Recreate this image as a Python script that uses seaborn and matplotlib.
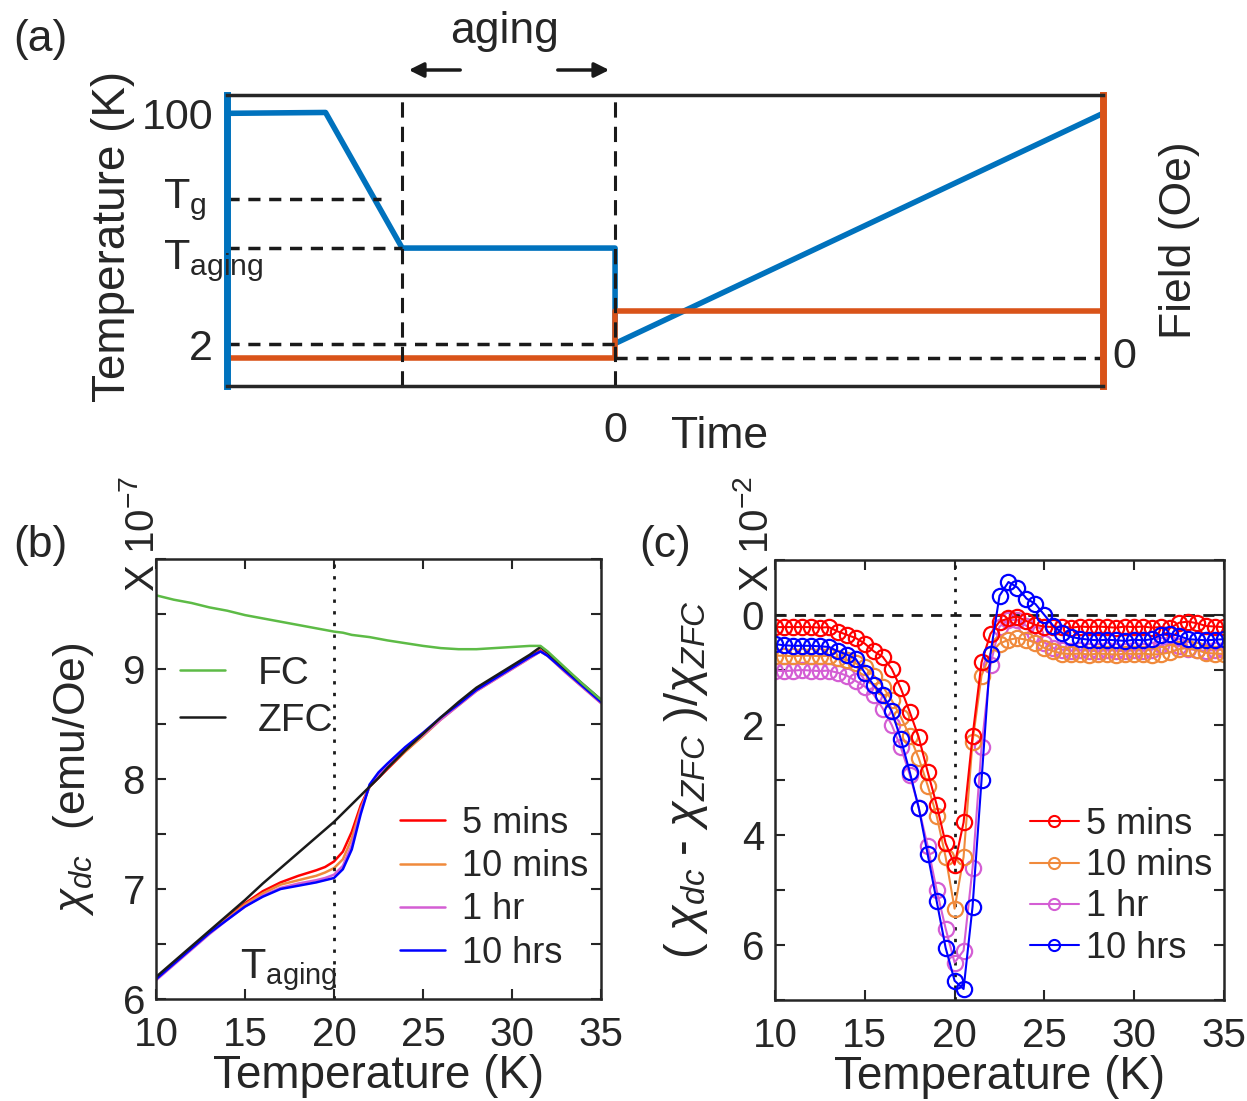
import numpy as np
import pandas as pd
import matplotlib
matplotlib.use("Agg")
import matplotlib.pyplot as plt
import seaborn as sns
from matplotlib.lines import Line2D
from matplotlib.ticker import MultipleLocator

# ---------------- data ----------------
# panel (a): protocol sketch (time and levels in axes units)
time_T = [0.0, 0.1125, 0.2, 0.443, 0.443, 1.0]
temp_T = [0.937, 0.940, 0.474, 0.474, 0.146, 0.937]
time_H = [0.0, 0.443, 0.443, 1.0]
field_H = [0.095, 0.095, 0.257, 0.257]
level_100, level_Tg, level_Tag, level_2, level_H0 = 0.937, 0.643, 0.474, 0.143, 0.095
t_aging_start, t_zero = 0.2, 0.443

# panel (b)
T_b = [10, 11, 12, 13, 14, 15, 16, 17, 18, 19, 19.5, 20, 20.5, 21, 21.5, 22, 22.5, 23,
       24, 25, 26, 27, 28, 29, 30, 31, 31.6, 32, 33, 34, 35]
fc_b = [9.67, 9.63, 9.60, 9.56, 9.53, 9.49, 9.46, 9.43, 9.40, 9.37, 9.355, 9.34, 9.33, 9.31,
        9.30, 9.29, 9.275, 9.26, 9.235, 9.21, 9.19, 9.18, 9.18, 9.19, 9.20, 9.21, 9.21,
        9.16, 9.01, 8.86, 8.72]
zfc_b = [6.20, 6.34, 6.48, 6.62, 6.76, 6.90, 7.05, 7.19, 7.33, 7.47, 7.54, 7.61, 7.69, 7.77,
         7.85, 7.93, 8.01, 8.10, 8.26, 8.41, 8.56, 8.70, 8.83, 8.93, 9.03, 9.13, 9.20,
         9.15, 9.00, 8.86, 8.72]
red_b = [6.19, 6.33, 6.47, 6.61, 6.74, 6.87, 6.98, 7.06, 7.12, 7.17, 7.20, 7.25, 7.34, 7.52,
         7.76, 7.93, 8.01, 8.09, 8.25, 8.40, 8.55, 8.68, 8.81, 8.91, 9.01, 9.11, 9.17,
         9.13, 8.98, 8.84, 8.70]
orange_b = [6.185, 6.325, 6.465, 6.60, 6.73, 6.86, 6.96, 7.04, 7.08, 7.12, 7.15, 7.19, 7.27,
            7.46, 7.73, 7.93, 8.02, 8.10, 8.25, 8.39, 8.54, 8.67, 8.80, 8.90, 9.00, 9.10,
            9.16, 9.12, 8.97, 8.83, 8.69]
magenta_b = [6.17, 6.31, 6.45, 6.59, 6.72, 6.84, 6.94, 7.01, 7.05, 7.08, 7.10, 7.13, 7.21,
             7.40, 7.71, 7.94, 8.04, 8.12, 8.27, 8.40, 8.54, 8.67, 8.80, 8.90, 9.00, 9.10,
             9.16, 9.12, 8.97, 8.83, 8.69]
blue_b = [6.18, 6.32, 6.46, 6.60, 6.72, 6.84, 6.93, 7.00, 7.03, 7.06, 7.08, 7.10, 7.18,
          7.36, 7.68, 7.95, 8.06, 8.14, 8.29, 8.42, 8.56, 8.68, 8.81, 8.91, 9.01, 9.11,
          9.16, 9.12, 8.98, 8.84, 8.70]

# panel (c)
T_c = [10.0, 10.5, 11.0, 11.5, 12.0, 12.5, 13.0, 13.5, 14.0, 14.5, 15.0, 15.5, 16.0, 16.5,
       17.0, 17.5, 18.0, 18.5, 19.0, 19.5, 20.0, 20.5, 21.0, 21.5, 22.0, 22.5, 23.0, 23.5,
       24.0, 24.5, 25.0, 25.5, 26.0, 26.5, 27.0, 27.5, 28.0, 28.5, 29.0, 29.5, 30.0, 30.5,
       31.0, 31.5, 32.0, 32.5, 33.0, 33.5, 34.0, 34.5, 35.0]
red_c = [0.22, 0.22, 0.22, 0.22, 0.22, 0.23, 0.22, 0.30, 0.36, 0.42, 0.52, 0.66, 0.76, 0.98,
         1.33, 1.76, 2.22, 2.85, 3.45, 4.15, 4.54, 3.77, 2.20, 0.86, 0.34, 0.12, 0.06, 0.03,
         0.11, 0.18, 0.21, 0.22, 0.21, 0.23, 0.21, 0.22, 0.21, 0.22, 0.23, 0.21, 0.22, 0.21,
         0.23, 0.22, 0.24, 0.14, 0.12, 0.15, 0.20, 0.21, 0.22]
orange_c = [0.74, 0.74, 0.75, 0.74, 0.74, 0.75, 0.74, 0.78, 0.82, 0.88, 0.95, 1.10, 1.30, 1.55,
            1.85, 2.20, 2.60, 3.10, 3.65, 4.40, 5.34, 4.40, 2.30, 1.10, 0.70, 0.52, 0.45, 0.42,
            0.45, 0.50, 0.60, 0.66, 0.70, 0.71, 0.70, 0.72, 0.70, 0.71, 0.72, 0.70, 0.71, 0.70,
            0.72, 0.71, 0.68, 0.62, 0.60, 0.64, 0.69, 0.70, 0.71]
magenta_c = [1.01, 1.02, 1.01, 1.00, 1.01, 1.02, 1.01, 1.05, 1.10, 1.20, 1.30, 1.45, 1.70, 2.00,
             2.40, 2.90, 3.50, 4.20, 5.00, 5.70, 6.32, 6.10, 4.60, 2.40, 0.90, 0.21, 0.09, 0.09,
             0.20, 0.35, 0.50, 0.60, 0.63, 0.65, 0.64, 0.65, 0.66, 0.64, 0.65, 0.66, 0.64, 0.65,
             0.63, 0.55, 0.52, 0.56, 0.62, 0.64, 0.65, 0.64, 0.63]
blue_c = [0.53, 0.55, 0.56, 0.56, 0.56, 0.57, 0.58, 0.66, 0.72, 0.80, 1.05, 1.28, 1.45, 1.75,
          2.25, 2.85, 3.50, 4.35, 5.20, 6.05, 6.65, 6.80, 5.30, 3.00, 0.70, -0.35, -0.60, -0.50,
          -0.30, -0.20, 0.00, 0.20, 0.33, 0.40, 0.43, 0.45, 0.46, 0.45, 0.46, 0.47, 0.45, 0.46,
          0.44, 0.36, 0.34, 0.38, 0.44, 0.45, 0.46, 0.45, 0.44]

series_labels = ["5 mins", "10 mins", "1 hr", "10 hrs"]
series_colors = ["#ff0000", "#f08a3c", "#d45ed4", "#0000ff"]

# ---------------- style ----------------
sns.set_theme(style="white")
plt.rcParams["font.family"] = ["Liberation Sans", "DejaVu Sans"]
plt.rcParams["mathtext.fontset"] = "custom"
plt.rcParams["mathtext.rm"] = "Liberation Sans"
plt.rcParams["mathtext.it"] = "Liberation Sans:italic"
plt.rcParams["mathtext.bf"] = "Liberation Sans:bold"
plt.rcParams["axes.unicode_minus"] = False

W, H = 1247, 1101
fig = plt.figure(figsize=(W / 100, H / 100), dpi=100)
fx = lambda px: px / W
fy = lambda py: 1 - py / H
SPINE = "#262626"
BLUE_A, ORANGE_A = "#0072bd", "#d95319"

# ---------------- panel (a) ----------------
axa = fig.add_axes([fx(227), fy(386), 876 / W, 291 / H])
sns.lineplot(x=time_T, y=temp_T, ax=axa, color=BLUE_A, lw=4, sort=False, estimator=None)
sns.lineplot(x=time_H, y=field_H, ax=axa, color=ORANGE_A, lw=4, sort=False, estimator=None)
dash_h = (0, (3.5, 2.5))
dash_v = (0, (5, 3))
axa.plot([0, 0.176], [level_Tg, level_Tg], color="k", lw=2.5, ls=dash_h)
axa.plot([0, t_aging_start], [level_Tag, level_Tag], color="k", lw=2.5, ls=dash_h)
axa.plot([0, t_zero], [level_2, level_2], color="k", lw=2.5, ls=dash_h)
axa.plot([t_zero, 1.0], [level_H0, level_H0], color="k", lw=2.5, ls=dash_h)
axa.axvline(t_aging_start, color="k", lw=2.2, ls=dash_v)
axa.axvline(t_zero, color="k", lw=2.2, ls=dash_v)
axa.set_xlim(0, 1)
axa.set_ylim(0, 1)
axa.set_xlabel("")
axa.set_ylabel("")
for s in ["top", "bottom"]:
    axa.spines[s].set_color(SPINE)
    axa.spines[s].set_linewidth(2.5)
axa.spines["left"].set_color(BLUE_A)
axa.spines["left"].set_linewidth(5)
axa.spines["right"].set_color(ORANGE_A)
axa.spines["right"].set_linewidth(5)
axa.set_yticks([level_100, level_2])
axa.set_yticklabels(["100", "2"])
axa.set_xticks([t_zero])
axa.set_xticklabels(["0"])
axa.tick_params(axis="both", length=0, labelsize=31, pad=10, left=True, bottom=True)
axa.tick_params(axis="x", pad=18)
axa.text(-0.073, 0.64, r"T$_{\rm g}$", transform=axa.transAxes, fontsize=31,
         ha="left", va="center")
axa.text(-0.073, 0.43, r"T$_{\rm aging}$", transform=axa.transAxes, fontsize=31,
         ha="left", va="center")
fig.text(fx(113), fy(236), "Temperature (K)", rotation=90, fontsize=33, ha="center", va="center")
fig.text(fx(1180), fy(240), "Field (Oe)", rotation=90, fontsize=32, ha="center", va="center")
fig.text(fx(1112), fy(357), "0", fontsize=31, ha="left", va="center")
fig.text(fx(720), fy(437), "Time", fontsize=32, ha="center", va="center")
fig.text(fx(40), fy(40), "(a)", fontsize=32, ha="center", va="center")
fig.text(fx(505), fy(31), "aging", fontsize=32, ha="center", va="center")
for x0, x1 in [(463, 406), (555, 612)]:
    fig.add_artist(matplotlib.patches.FancyArrowPatch(
        (fx(x0), fy(70)), (fx(x1), fy(70)), transform=fig.transFigure,
        arrowstyle="-|>", mutation_scale=22, lw=2.5, color="k"))


def style_axes(ax):
    for s in ax.spines.values():
        s.set_color(SPINE)
        s.set_linewidth(1.8)
    ax.tick_params(which="both", direction="in", top=True, right=True, bottom=True,
                   left=True, length=7, width=1.5, color=SPINE, labelsize=29, pad=8)
    ax.tick_params(axis="x", pad=12)
    ax.set_xticks([10, 15, 20, 25, 30, 35])


# ---------------- panel (b) ----------------
axb = fig.add_axes([fx(156), fy(999), 445 / W, 440 / H])
for vals, col in zip([red_b, orange_b, magenta_b, blue_b], series_colors):
    sns.lineplot(x=T_b, y=vals, ax=axb, color=col, lw=1.8, estimator=None)
sns.lineplot(x=T_b, y=zfc_b, ax=axb, color="k", lw=1.8, estimator=None)
sns.lineplot(x=T_b, y=fc_b, ax=axb, color="#5dbb46", lw=1.8, estimator=None)
axb.axvline(20, color="k", lw=2, ls=(0, (1.2, 3)))
axb.set_xlim(10, 35)
axb.set_ylim(6, 10)
axb.set_yticks([6, 7, 8, 9])
axb.yaxis.set_minor_locator(MultipleLocator(0.5))
style_axes(axb)
axb.set_xlabel("Temperature (K)", fontsize=33, labelpad=0)
axb.set_ylabel(r"$\chi_{dc}$  (emu/Oe)", fontsize=32)
axb.yaxis.set_label_coords(-0.135, 0.5)
axb.text(14.7, 6.19, r"T$_{\rm aging}$", fontsize=30, ha="left", va="baseline")
leg1 = axb.legend(handles=[Line2D([], [], color="#5dbb46", lw=1.8),
                           Line2D([], [], color="k", lw=1.8)],
                  labels=["FC", "ZFC"], loc="upper left", bbox_to_anchor=(0.054, 0.78),
                  frameon=False, fontsize=28, handlelength=1.15, handletextpad=0.85,
                  labelspacing=0.28, borderpad=0, borderaxespad=0)
axb.add_artist(leg1)
axb.legend(handles=[Line2D([], [], color=c, lw=1.8) for c in series_colors],
           labels=series_labels, loc="upper left", bbox_to_anchor=(0.548, 0.439),
           frameon=False, fontsize=26, handlelength=1.25, handletextpad=0.47,
           labelspacing=0.23, borderpad=0, borderaxespad=0)
fig.text(fx(143), fy(592), r"X 10$^{-7}$", rotation=90, fontsize=29, ha="center", va="bottom")
fig.text(fx(40), fy(545), "(b)", fontsize=32, ha="center", va="center")

# ---------------- panel (c) ----------------
axc = fig.add_axes([fx(775), fy(1000), 449 / W, 440 / H])
axc.axhline(0, color="k", lw=2, ls=(0, (4, 3)))
axc.axvline(20, color="k", lw=2, ls=(0, (1.2, 3)))
order = [2, 1, 0, 3]
c_vals = [red_c, orange_c, magenta_c, blue_c]
for i in order:
    col = series_colors[i]
    sns.lineplot(x=T_c, y=c_vals[i], ax=axc, color=col, lw=1.5, estimator=None,
                 marker="o", markersize=11, markerfacecolor="none", markeredgecolor=col,
                 markeredgewidth=1.6)
axc.set_xlim(10, 35)
axc.set_ylim(7, -1)
axc.set_yticks([0, 2, 4, 6])
axc.yaxis.set_minor_locator(MultipleLocator(1))
style_axes(axc)
axc.set_xlabel("Temperature (K)", fontsize=33, labelpad=0)
axc.set_ylabel(r"( $\chi_{dc}$ - $\chi_{ZFC}$ )/$\chi_{ZFC}$", fontsize=34)
axc.yaxis.set_label_coords(-0.145, 0.5)
axc.legend(handles=[Line2D([], [], color=c, lw=1.5, marker="o", markersize=8,
                           markerfacecolor="none", markeredgewidth=1.5) for c in series_colors],
           labels=series_labels, loc="upper left", bbox_to_anchor=(0.568, 0.439),
           frameon=False, fontsize=26, handlelength=1.35, handletextpad=0.2,
           labelspacing=0.175, borderpad=0, borderaxespad=0)
fig.text(fx(757), fy(592), r"X 10$^{-2}$", rotation=90, fontsize=29, ha="center", va="bottom")
fig.text(fx(665), fy(545), "(c)", fontsize=32, ha="center", va="center")

fig.savefig("out.png", dpi=100)
